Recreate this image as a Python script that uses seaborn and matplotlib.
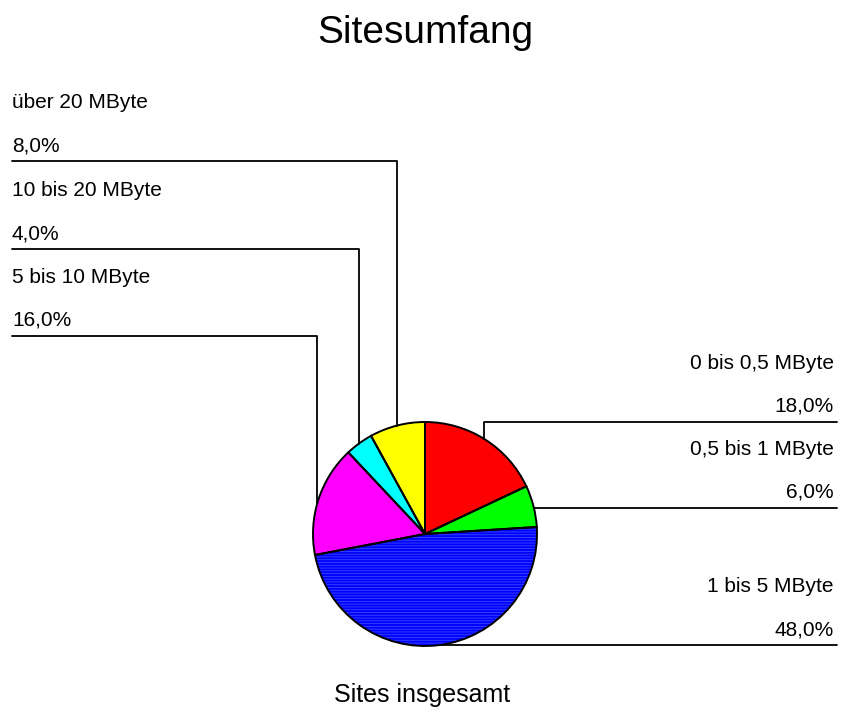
"""
Sitesumfang — Tortendiagramm mit Beschriftungslinien.
"""

import numpy as np
import matplotlib
matplotlib.use("Agg")  # ohne Display
import matplotlib.pyplot as plt
import seaborn as sns

# --- Daten ---
title = "Sitesumfang"
xlabel = "Sites insgesamt"
categories = ["0 bis 0,5 MByte", "0,5 bis 1 MByte", "1 bis 5 MByte",
              "5 bis 10 MByte", "10 bis 20 MByte", "über 20 MByte"]
shares = [18.0, 6.0, 48.0, 16.0, 4.0, 8.0]
colors = ["#ff0000", "#00ff00", "#0000ff", "#ff00ff", "#00ffff", "#ffff00"]

# --- Layout (Pixel, y von oben) ---
W, H = 841, 713
CX, CY, R = 425, 534, 112
# Seite, Hoehe der Linie, x der senkrechten Anbindung (None = waagrecht bis zum Rand)
label_layout = [
    ("right", 422, 484),
    ("right", 508, None),
    ("right", 645, None),
    ("left", 336, 317),
    ("left", 249, 359),
    ("left", 161, 397),
]
LEFT_X, RIGHT_X = 12, 837

sns.set_style("white")
plt.rcParams["font.family"] = ["Liberation Sans", "DejaVu Sans"]
plt.rcParams["text.color"] = "black"


def fy(y):
    """Pixel-y (von oben) in Datenkoordinate."""
    return H - y


fig = plt.figure(figsize=(W / 100, H / 100), dpi=100)
ax = fig.add_axes([0, 0, 1, 1])

# Fuellung mit feiner Schraffur im blauen Segment
plt.rcParams["hatch.linewidth"] = 0.6
wedges, _ = ax.pie(shares, colors=colors, startangle=90, counterclock=False,
                   center=(CX, fy(CY)), radius=R,
                   wedgeprops=dict(edgecolor="none", linewidth=0))
wedges[2].set_hatch("------")
wedges[2].set_edgecolor("#3a48ff")
wedges[2].set_linewidth(0)
# Umrisse
ax.pie(shares, colors=["none"] * len(shares), startangle=90,
       counterclock=False, center=(CX, fy(CY)), radius=R,
       wedgeprops=dict(edgecolor="black", linewidth=1.4, fill=False))

for name, val, (side, ly, ax_x) in zip(categories, shares, label_layout):
    outer = RIGHT_X if side == "right" else LEFT_X
    if ax_x is None:
        dy = ly - CY
        inner = CX + np.sqrt(R ** 2 - dy ** 2) * (1 if side == "right" else -1)
        ax.plot([inner, outer], [fy(ly), fy(ly)], color="black", lw=1.3)
    else:
        edge_y = CY - np.sqrt(R ** 2 - (ax_x - CX) ** 2)
        ax.plot([outer, ax_x, ax_x], [fy(ly), fy(ly), fy(edge_y)],
                color="black", lw=1.3)
    tx = 834 if side == "right" else LEFT_X
    ha = "right" if side == "right" else "left"
    ax.text(tx, fy(ly - 53), name, ha=ha, va="baseline", fontsize=15)
    ax.text(tx, fy(ly - 10), f"{val:.1f}%".replace(".", ","),
            ha=ha, va="baseline", fontsize=15)

ax.text(CX, fy(43), title, ha="center", va="baseline", fontsize=28)
ax.text(422, fy(702), xlabel, ha="center", va="baseline", fontsize=18)

ax.set_xlim(0, W)
ax.set_ylim(0, H)
ax.set_aspect("equal")
ax.set_axis_off()

fig.savefig("out.png", dpi=100, facecolor="white")
plt.close(fig)
